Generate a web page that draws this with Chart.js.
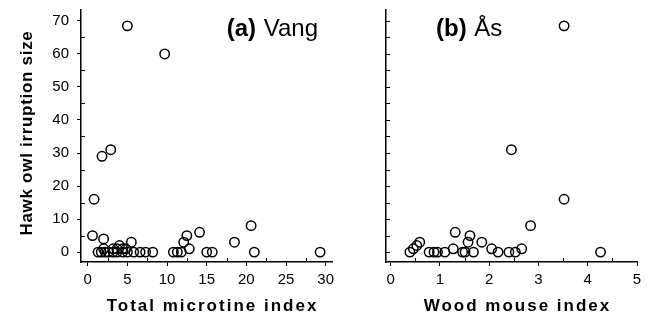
<!DOCTYPE html>
<html>
<head>
<meta charset="utf-8">
<script src="https://cdn.jsdelivr.net/npm/chart.js@4.4.1/dist/chart.umd.min.js"></script>
<style>
  html, body { margin: 0; padding: 0; background: #fff; }
  #wrap { position: relative; width: 650px; height: 321px; }
  #cA { position: absolute; left: 0; top: 0; }
  #cB { position: absolute; left: 340px; top: 0; }
</style>
</head>
<body>
<div id="wrap">
  <canvas id="cA" width="340" height="321"></canvas>
  <canvas id="cB" width="310" height="321"></canvas>
</div>
<script>
// ---- Data ----
// (a) Vang: total microtine index vs hawk owl irruption size
const vangX = [5.0, 9.7, 0.8, 1.8, 2.9, 0.6, 2.0, 5.5, 12.5, 12.1, 12.8, 14.1, 18.5, 20.6, 21.0, 29.3,
  15.0, 15.7, 10.8, 11.3, 11.8,
  1.3, 1.7, 2.2, 2.6, 3.2, 3.7, 4.4, 5.0, 5.8, 6.6, 7.3, 8.2,
  2.0, 3.2, 3.7, 4.0, 4.4, 4.8];
const vangY = [68.5, 60, 16, 29, 31, 5, 4, 3, 5, 3, 1, 6, 3, 8, 0, 0,
  0, 0, 0, 0, 0,
  0, 0, 0, 0, 0, 0, 0, 0, 0, 0, 0, 0,
  1, 1, 1, 2, 1, 1];
// (b) Ås: wood mouse index vs hawk owl irruption size
const asX = [0.39, 0.46, 0.53, 0.59, 0.78, 0.88, 0.95, 1.10, 1.27, 1.31, 1.46, 1.51, 1.57, 1.61, 1.68,
  1.85, 2.05, 2.18, 2.40, 2.45, 2.53, 2.66, 2.84, 3.52, 3.52, 4.26];
const asY = [0, 1, 2, 3, 0, 0, 0, 0, 1, 6, 0, 0, 3, 5, 0,
  3, 1, 0, 0, 31, 0, 1, 8, 16, 68.5, 0];

const yTicks = [0, 10, 20, 30, 40, 50, 60, 70];
const yMinor = [5, 15, 25, 35, 45, 55, 65];
const yAllTicks = [0, 5, 10, 15, 20, 25, 30, 35, 40, 45, 50, 55, 60, 65, 70];
const vangXTicks = [0, 5, 10, 15, 20, 25, 30];
const vangXMinor = [2.5, 7.5, 12.5, 17.5, 22.5, 27.5];
const asXTicks = [0, 1, 2, 3, 4, 5];
const asXMinor = [0.5, 1.5, 2.5, 3.5, 4.5];

const yTitle = 'Hawk owl irruption size';
const vangTitle = 'Total microtine index';
const asTitle = 'Wood mouse index';

const FONT = "'Liberation Sans', Arial, Helvetica, sans-serif";

// ---- plugins ----
const minorTicks = {
  id: 'minorTicks',
  afterDraw(chart, args, opts) {
    const ctx = chart.ctx, a = chart.chartArea;
    ctx.save();
    ctx.strokeStyle = '#000';
    ctx.lineWidth = 1;
    ctx.beginPath();
    (opts.x || []).forEach(v => {
      const px = Math.round(chart.scales.x.getPixelForValue(v)) + 0.5;
      ctx.moveTo(px, a.bottom); ctx.lineTo(px, a.bottom - 4);
    });
    (opts.y || []).forEach(v => {
      const py = Math.round(chart.scales.y.getPixelForValue(v)) + 0.5;
      ctx.moveTo(a.left, py); ctx.lineTo(a.left + 4, py);
    });
    ctx.stroke();
    ctx.restore();
  }
};

const titleSpacing = {
  id: 'titleSpacing',
  beforeDraw(chart, args, opts) {
    Object.values(chart.scales).forEach(s => {
      if (s._lsPatched) return;
      const o = (opts && opts[s.id]) || {};
      const orig = s.drawTitle.bind(s);
      s.drawTitle = function () {
        const c = this.ctx;
        c.save();
        c.letterSpacing = o.ls || '0px';
        c.translate(o.dx || 0, o.dy || 0);
        orig();
        c.restore();
      };
      s._lsPatched = true;
    });
  }
};

const panelLabel = {
  id: 'panelLabel',
  afterDraw(chart, args, opts) {
    if (!opts || !opts.bold) return;
    const ctx = chart.ctx, a = chart.chartArea;
    ctx.save();
    ctx.fillStyle = '#000';
    ctx.textBaseline = 'alphabetic';
    const fb = 'bold 24px ' + FONT, fn = '24px ' + FONT;
    ctx.font = fb; const wb = ctx.measureText(opts.bold).width;
    ctx.font = fn; const wn = ctx.measureText(' ' + opts.normal).width;
    let x0 = opts.align === 'right' ? a.right - opts.offset - wb - wn : a.left + opts.offset;
    const y0 = a.top + opts.baseline;
    ctx.font = fb; ctx.textAlign = 'left';
    ctx.fillText(opts.bold, x0, y0);
    ctx.font = fn;
    ctx.fillText(' ' + opts.normal, x0 + wb + 1, y0);
    ctx.restore();
  }
};

function pts(xs, ys) { return xs.map((x, i) => ({ x: x, y: ys[i] })); }

function makeChart(canvas, cfg) {
  return new Chart(canvas, {
    type: 'scatter',
    data: {
      datasets: [{
        data: pts(cfg.xs, cfg.ys),
        pointStyle: 'circle',
        pointRadius: 4.7,
        pointHoverRadius: 4.7,
        borderColor: '#000',
        backgroundColor: 'rgba(0,0,0,0)',
        borderWidth: 1.5
      }]
    },
    options: {
      responsive: false,
      animation: false,
      devicePixelRatio: 1,
      layout: { padding: cfg.padding },
      plugins: {
        legend: { display: false },
        tooltip: { enabled: false },
        minorTicks: { x: cfg.xMinor, y: cfg.yMinorList },
        titleSpacing: { x: { ls: '2px', dx: 6 }, y: { ls: '0.7px', dy: -3 } },
        panelLabel: cfg.label
      },
      scales: {
        x: {
          type: 'linear',
          min: cfg.xMin, max: cfg.xMax,
          afterBuildTicks: s => { s.ticks = cfg.xTicks.map(v => ({ value: v })); },
          afterFit: s => { s.height = 59; s.paddingLeft = 0; s.paddingRight = 0; },
          ticks: { color: '#000', font: { family: FONT, size: 15 }, padding: 5, maxRotation: 0, autoSkip: false },
          grid: { display: true, drawOnChartArea: false, drawTicks: true, tickLength: 4, color: '#000', lineWidth: 1 },
          border: { display: true, color: '#000', width: 1.5 },
          title: { display: true, text: cfg.xTitle, color: '#000', font: { family: FONT, size: 17, weight: 'bold' }, padding: { top: 0, bottom: 4 } }
        },
        y: {
          type: 'linear',
          min: -3, max: 73.3,
          afterBuildTicks: s => { s.ticks = yTicks.map(v => ({ value: v })); },
          afterFit: s => { s.width = cfg.yWidth; s.paddingTop = 0; s.paddingBottom = 0; },
          ticks: { display: cfg.yLabels, color: '#000', font: { family: FONT, size: 15 }, padding: 8, autoSkip: false },
          grid: { display: true, drawOnChartArea: false, drawTicks: cfg.yLabels, tickLength: 4, color: '#000', lineWidth: 1 },
          border: { display: true, color: '#000', width: 1.5 },
          title: { display: cfg.yLabels, text: yTitle, color: '#000', font: { family: FONT, size: 17, weight: 'bold' }, padding: { top: 17, bottom: 0 } }
        }
      }
    },
    plugins: [minorTicks, titleSpacing, panelLabel]
  });
}

makeChart(document.getElementById('cA'), {
  xs: vangX, ys: vangY,
  xMin: -0.85, xMax: 30.8, xTicks: vangXTicks, xMinor: vangXMinor,
  yMinorList: yMinor, yWidth: 81, yLabels: true,
  xTitle: vangTitle,
  padding: { top: 10, right: 8, left: 0, bottom: 0 },
  label: { bold: '(a)', normal: 'Vang', align: 'right', offset: 15, baseline: 26 }
});

makeChart(document.getElementById('cB'), {
  xs: asX, ys: asY,
  xMin: -0.095, xMax: 5, xTicks: asXTicks, xMinor: asXMinor,
  yMinorList: yAllTicks, yWidth: 46, yLabels: false,
  xTitle: asTitle,
  padding: { top: 10, right: 13, left: 0, bottom: 0 },
  label: { bold: '(b)', normal: 'Ås', align: 'left', offset: 50, baseline: 26 }
});
</script>
</body>
</html>
